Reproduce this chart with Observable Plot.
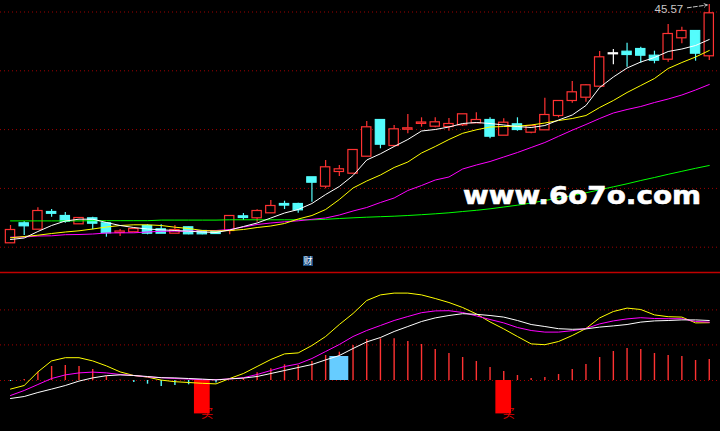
<!DOCTYPE html>
<html>
<head>
<meta charset="utf-8">
<script src="https://cdn.jsdelivr.net/npm/d3@7"></script>
<script src="https://cdn.jsdelivr.net/npm/@observablehq/plot@0.6"></script>
<style>
  html, body { margin: 0; padding: 0; background: #000; }
  #wrap { position: relative; width: 720px; height: 431px; background: #000; overflow: hidden; }
  #wrap svg { display: block; }
  #cai { position: absolute; left: 303px; top: 256px; width: 10px; height: 10px; background: #174a80;
         color: #fff; font: 9px/10px "Noto Sans CJK SC", sans-serif; text-align: center; }
</style>
</head>
<body>
<div id="wrap"></div>
<script>
// ---------- price pane data ----------
const open = [21.74,23.64,23.10,24.77,24.37,23.64,24.14,23.64,22.77,22.84,
  23.37,23.04,22.70,23.24,22.87,22.82,22.97,24.34,24.24,24.74,
  25.57,25.57,28.24,27.40,28.87,28.70,30.40,33.97,31.47,33.10,
  33.68,33.40,33.37,33.54,33.74,33.97,32.50,33.54,32.80,33.04,
  34.47,35.97,36.30,37.40,40.64,40.80,41.07,40.40,40.10,42.24,
  42.87,40.44];
const close = [22.97,23.44,24.87,24.69,23.90,24.17,23.70,22.74,22.82,23.07,
  22.70,22.70,22.97,22.64,22.64,22.67,24.37,24.27,24.87,25.37,
  25.51,25.04,27.80,29.24,29.04,30.97,33.24,31.60,33.04,33.14,
  33.72,33.74,33.57,34.54,33.97,32.40,33.70,33.07,33.37,34.47,
  35.87,36.74,37.44,40.24,40.64,40.57,40.50,40.00,42.57,42.87,
  40.70,44.64];
const high = [23.47,23.87,25.24,25.07,24.77,24.22,24.30,23.70,23.07,23.17,
  23.54,23.54,23.47,23.30,22.97,22.92,24.37,24.67,25.04,25.97,
  25.90,25.70,28.24,29.97,29.47,30.97,33.87,33.97,33.47,34.57,
  34.24,34.24,34.17,34.54,34.74,34.24,34.14,34.24,33.37,36.20,
  35.87,37.87,37.54,40.87,41.07,41.70,41.30,40.90,43.57,43.30,
  42.87,45.57];
const low = [21.72,22.47,23.10,24.30,23.70,23.62,23.04,22.30,22.37,22.82,
  22.54,22.67,22.70,22.54,22.54,22.57,22.54,23.97,23.80,24.74,
  25.07,24.70,25.80,27.14,28.37,28.70,30.40,31.14,31.47,32.64,
  33.30,33.24,32.90,33.37,33.74,32.14,32.50,32.90,32.64,33.04,
  34.24,35.70,35.80,37.40,39.54,39.30,39.70,39.64,39.80,41.64,
  39.90,39.97];
const ma5 = [22.07,22.22,22.87,23.47,23.92,24.10,24.10,23.77,23.47,23.27,
  23.12,23.04,22.97,22.90,22.82,22.77,23.02,23.37,23.72,24.22,
  24.72,25.07,25.67,26.57,27.37,28.47,30.02,30.64,31.37,32.07,
  32.92,33.07,33.32,33.67,33.77,33.67,33.52,33.37,33.27,33.47,
  34.02,34.52,35.47,37.27,38.32,39.22,39.82,40.27,40.87,41.12,
  41.47,42.07];
const ma10 = [22.24,22.37,22.50,22.67,22.82,22.94,23.12,23.32,23.47,23.54,
  23.54,23.47,23.30,23.17,22.97,22.92,22.97,23.07,23.27,23.42,
  23.67,24.12,24.47,25.07,26.07,27.22,27.92,28.52,29.27,29.82,
  30.72,31.37,32.07,32.69,33.04,33.32,33.37,33.40,33.52,33.72,
  33.97,34.17,34.47,35.27,35.97,36.77,37.47,38.17,39.17,39.77,
  40.32,40.97];
const ma20 = [22.30,22.32,22.42,22.44,22.55,22.57,22.62,22.72,22.74,22.74,
  22.82,22.90,22.90,22.90,22.94,22.97,23.07,23.32,23.57,23.72,
  23.84,23.94,24.09,24.22,24.52,24.92,25.27,25.77,26.22,26.97,
  27.47,28.02,28.32,29.12,29.52,29.87,30.32,30.77,31.27,31.77,
  32.39,33.00,33.57,34.17,34.72,35.07,35.37,35.77,36.12,36.52,
  37.02,37.57];
const ma60 = [23.93,23.93,23.93,23.93,23.93,23.93,23.95,23.95,23.95,23.95,
  23.95,24.01,24.01,24.01,24.01,24.01,24.04,24.04,24.04,24.04,
  24.04,24.04,24.04,24.09,24.17,24.24,24.30,24.35,24.40,24.47,
  24.55,24.64,24.74,24.87,24.99,25.14,25.32,25.50,25.72,25.97,
  26.20,26.47,26.74,27.04,27.34,27.64,27.97,28.27,28.59,28.89,
  29.19,29.47];
const priceGrid = [44.82, 38.94, 33.06, 27.18, 21.30];

// ---------- indicator pane data ----------
const histo = [-0.05,0.05,0.415,0.7,0.75,0.7,0.55,0.215,0.03,-0.1,
  -0.185,-0.3,-0.25,-0.215,-0.15,-0.125,0,0.1,0.385,0.585,
  0.785,0.75,0.95,1.25,1.415,1.75,2.05,2.085,2.085,1.95,
  1.8,1.55,1.35,1.15,0.95,0.65,0.45,0.25,0.1,0.15,
  0.3,0.55,0.8,1.15,1.45,1.6,1.55,1.35,1.25,1.2,
  1.0,1.05];
const indYellow = [-0.43,-0.25,0.43,0.98,1.14,1.14,0.98,0.73,0.43,0.25,
  0.17,0.02,-0.06,-0.1,-0.14,-0.17,0.1,0.35,0.7,1.05,
  1.33,1.38,1.75,2.2,2.8,3.35,4.0,4.28,4.37,4.37,
  4.28,4.1,3.9,3.65,3.33,2.93,2.58,2.2,1.83,1.79,
  1.95,2.25,2.6,3.13,3.45,3.62,3.55,3.28,3.19,3.17,
  2.88,2.89];
const indMagenta = [-0.75,-0.5,-0.2,0.1,0.28,0.38,0.42,0.38,0.3,0.25,
  0.18,0.14,0.1,0.07,0.04,0.04,0.08,0.14,0.3,0.5,
  0.7,0.83,1.1,1.45,1.8,2.2,2.5,2.75,3.0,3.2,
  3.39,3.48,3.49,3.4,3.23,3.05,2.88,2.65,2.5,2.42,
  2.42,2.49,2.6,2.83,2.98,3.08,3.14,3.1,3.09,3.09,
  2.95,2.92];
const indWhite = [-0.9,-0.8,-0.6,-0.43,-0.25,-0.03,0.13,0.24,0.28,0.25,
  0.2,0.14,0.13,0.1,0.07,0.03,0.08,0.12,0.2,0.35,
  0.5,0.65,0.8,1.03,1.25,1.6,1.93,2.15,2.45,2.7,
  2.95,3.13,3.25,3.34,3.31,3.25,3.17,3.0,2.8,2.7,
  2.59,2.56,2.58,2.67,2.73,2.8,2.92,2.98,3.0,3.03,
  3.03,3.0];
const indGrid = [3.53, 1.78, 0];
const buySignals = [14, 36];
const buyDepth = -1.67;
const sellSignals = [24];
const sellHeight = 1.2;

// ---------- colours ----------
const UP = "#ff3232", DOWN = "#54fcfc", FLAT = "#ffffff";
const GRID = "#a00000";

const idx = d3.range(open.length);
const candles = idx.map(i => ({i, o: open[i], c: close[i], h: high[i], l: low[i]}));
const candleColor = d => d.c > d.o ? UP : d.c < d.o ? DOWN : FLAT;
const series = (arr) => idx.map(i => ({i, v: arr[i]}));
const xDomain = [-0.73, 51.82];

const priceChart = Plot.plot({
  width: 720, height: 271, margin: 0,
  style: {background: "#000", overflow: "visible"},
  x: {domain: xDomain, axis: null},
  y: {domain: [18.87, 45.97], axis: null},
  marks: [
    Plot.ruleY(priceGrid, {stroke: GRID, strokeDasharray: "1,3"}),
    Plot.ruleX(candles, {x: "i", y1: "l", y2: "h", stroke: candleColor, strokeWidth: 1.2}),
    Plot.rect(candles, {
      x1: d => d.i - 0.34, x2: d => d.i + 0.34, y1: "o", y2: "c",
      fill: d => d.c > d.o ? "#000000" : candleColor(d),
      stroke: candleColor, strokeWidth: 1.2, insetTop: -0.5, insetBottom: -0.5
    }),
    Plot.line(series(ma60), {x: "i", y: "v", stroke: "#00ff00", strokeWidth: 1}),
    Plot.line(series(ma20), {x: "i", y: "v", stroke: "#ff00ff", strokeWidth: 1}),
    Plot.line(series(ma10), {x: "i", y: "v", stroke: "#ffff00", strokeWidth: 1}),
    Plot.line(series(ma5), {x: "i", y: "v", stroke: "#ffffff", strokeWidth: 1}),
    Plot.text([candles[candles.length - 1]], {
      x: "i", y: "h", text: d => d.h.toFixed(2), textAnchor: "end", lineAnchor: "middle",
      dx: -26, dy: 5, fill: "#c8c8c8", fontSize: 11.5, fontFamily: "Liberation Sans, Arial, sans-serif"
    }),
    Plot.arrow([candles[candles.length - 1]], {
      x1: d => d.i - 1.6, y1: d => d.h - 0.33, x2: d => d.i - 0.15, y2: d => d.h - 0.05,
      stroke: "#c8c8c8", strokeWidth: 1, headLength: 5, strokeDasharray: "4,2"
    })
  ]
});

// watermark overlay
d3.select(priceChart).append("text")
  .attr("x", 463).attr("y", 203.5)
  .attr("text-anchor", "start")
  .attr("fill", "#ffffff")
  .attr("stroke", "#ffffff")
  .attr("stroke-width", 0.6)
  .attr("font-family", "DejaVu Sans, sans-serif")
  .attr("font-weight", "bold")
  .attr("font-size", 25)
  .attr("textLength", 238)
  .attr("lengthAdjust", "spacingAndGlyphs")
  .text("www.6o7o.com");

const indicatorChart = Plot.plot({
  width: 720, height: 160, margin: 0,
  style: {background: "#000", overflow: "visible"},
  x: {domain: xDomain, axis: null},
  y: {domain: [-2.55, 5.45], axis: null},
  marks: [
    Plot.ruleY([5.4], {stroke: "#c00000", strokeWidth: 1.3}),
    Plot.ruleY(indGrid, {stroke: GRID, strokeDasharray: "1,3"}),
    Plot.ruleX(series(histo), {x: "i", y1: 0, y2: "v", stroke: d => d.v >= 0 ? UP : DOWN, strokeWidth: 1.4}),
    Plot.text(buySignals, {x: d => d, y: buyDepth, text: () => "买", dx: 5, fill: "#e00000",
      fontSize: 12, fontFamily: "Noto Sans CJK SC, sans-serif", lineAnchor: "middle"}),
    Plot.rect(buySignals, {x1: d => d - 0.575, x2: d => d + 0.575, y1: 0, y2: buyDepth, fill: "#ff0000"}),
    Plot.rect(sellSignals, {x1: d => d - 0.69, x2: d => d + 0.69, y1: 0, y2: sellHeight, fill: "#66ccff"}),
    Plot.line(series(indYellow), {x: "i", y: "v", stroke: "#ffff00", strokeWidth: 1}),
    Plot.line(series(indMagenta), {x: "i", y: "v", stroke: "#ff00ff", strokeWidth: 1}),
    Plot.line(series(indWhite), {x: "i", y: "v", stroke: "#ffffff", strokeWidth: 1})
  ]
});

const wrap = document.getElementById("wrap");
wrap.appendChild(priceChart);
wrap.appendChild(indicatorChart);
const cai = document.createElement("div");
cai.id = "cai";
cai.textContent = "财";
wrap.appendChild(cai);
</script>
</body>
</html>
